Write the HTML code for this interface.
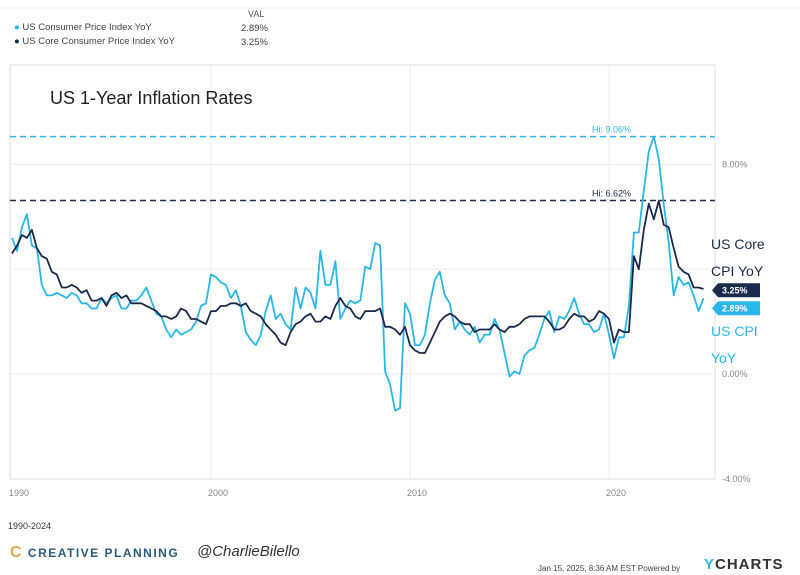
<!DOCTYPE html>
<html><head><meta charset="utf-8"><style>
body{margin:0;width:800px;height:575px;background:#fff;font-family:"Liberation Sans",sans-serif;position:relative;overflow:hidden}
.t{position:absolute;white-space:nowrap}
</style></head><body>
<div class="t" style="left:248px;top:9px;font-size:9px;color:#555">VAL</div>
<div class="t" style="left:14px;top:22px;font-size:9.5px;color:#444"><span style="color:#29b6e8">●</span> US Consumer Price Index YoY</div>
<div class="t" style="left:14px;top:36px;font-size:9.5px;color:#444"><span style="color:#1b2a4a">●</span> US Core Consumer Price Index YoY</div>
<div class="t" style="left:241px;top:23px;font-size:9.5px;color:#444">2.89%</div>
<div class="t" style="left:241px;top:37px;font-size:9.5px;color:#444">3.25%</div>
<svg id="chart" width="800" height="575" style="position:absolute;left:0;top:0"></svg>
<div class="t" style="left:50px;top:88px;font-size:18px;color:#222">US 1-Year Inflation Rates</div>
<div class="t" style="left:711px;top:231px;font-size:14px;color:#1b2a4a;line-height:27px">US Core<br>CPI YoY</div>
<div class="t" style="left:711px;top:318px;font-size:14px;color:#29b6e8;line-height:27px">US CPI<br>YoY</div>
<div class="t" style="left:8px;top:521px;font-size:9px;color:#333">1990-2024</div>
<div class="t" style="left:10px;top:544px;font-size:12px;color:#2a5a7a;letter-spacing:1.5px;font-weight:bold"><span style="color:#d8a84a;font-size:16px">C</span> CREATIVE PLANNING</div>
<div class="t" style="left:197px;top:543px;font-size:15px;color:#333;font-style:italic">@CharlieBilello</div>
<div class="t" style="left:538px;top:564px;font-size:8px;color:#444">Jan 15, 2025, 8:36 AM EST Powered by</div>
<div class="t" style="left:704px;top:556px;font-size:15px;color:#333;font-weight:bold;letter-spacing:1px"><span style="color:#29b6e8">Y</span>CHARTS</div>
<script>
const years=["1990","2000","2010","2020"];
const yTicks=[8,0,-4];
const cpi=[5.2,4.7,5.6,6.1,4.9,4.8,3.4,3.0,3.0,3.1,3.0,2.9,3.1,3.0,2.7,2.7,2.5,2.5,2.9,2.7,2.9,3.0,2.5,2.5,2.8,2.8,3.0,3.3,2.8,2.3,2.2,1.7,1.4,1.7,1.5,1.6,1.7,2.0,2.6,2.7,3.8,3.7,3.5,3.4,2.9,3.2,2.6,1.6,1.3,1.1,1.5,2.4,3.0,2.1,2.3,1.9,1.7,3.3,2.5,3.3,3.1,2.5,4.7,3.4,3.4,4.3,2.1,2.5,2.8,2.7,2.8,4.1,4.0,5.0,4.9,0.1,-0.4,-1.4,-1.3,2.7,2.3,1.1,1.1,1.5,2.7,3.6,3.9,3.0,2.7,1.7,2.0,1.7,1.5,1.8,1.2,1.5,1.5,2.1,1.7,0.8,-0.1,0.1,0.0,0.7,0.9,1.0,1.5,2.1,2.4,1.6,2.2,2.1,2.4,2.9,2.3,1.9,1.9,1.6,1.7,2.3,1.5,0.6,1.4,1.4,2.6,5.4,5.4,7.0,8.5,9.06,8.2,6.5,5.0,3.0,3.7,3.4,3.5,3.0,2.4,2.89];
const core=[4.6,4.9,5.3,5.2,5.5,4.8,4.5,4.4,3.9,3.8,3.3,3.3,3.4,3.3,3.1,3.2,2.8,2.8,2.9,2.6,3.0,3.1,2.9,3.0,2.7,2.7,2.7,2.6,2.5,2.4,2.2,2.2,2.1,2.2,2.5,2.4,2.1,2.1,2.0,1.9,2.4,2.4,2.6,2.6,2.7,2.7,2.6,2.7,2.4,2.3,2.2,1.9,1.7,1.5,1.2,1.1,1.6,1.9,2.0,2.2,2.3,2.0,2.0,2.2,2.1,2.6,2.9,2.6,2.5,2.2,2.1,2.4,2.4,2.4,2.5,1.8,1.8,1.7,1.5,1.8,1.1,0.9,0.8,0.8,1.2,1.6,2.0,2.2,2.3,2.2,2.0,1.9,1.9,1.6,1.7,1.7,1.7,1.9,1.7,1.6,1.8,1.8,1.9,2.1,2.2,2.2,2.2,2.2,2.0,1.7,1.7,1.8,2.1,2.3,2.2,2.2,2.0,2.1,2.4,2.3,2.1,1.2,1.7,1.6,1.6,4.5,4.0,5.5,6.5,5.9,6.62,5.7,5.6,4.8,4.1,3.9,3.8,3.3,3.3,3.25];
const startYear=1990, perYear=4;
const svg=document.getElementById('chart');
const NS='http://www.w3.org/2000/svg';
const L=10,R=715,T=65,B=479;
const xS=t=>L+2+(t-1990)*19.9;
const yS=v=>374-v*26.2;
function mk(tag,a){const e=document.createElementNS(NS,tag);for(const k in a)e.setAttribute(k,a[k]);svg.appendChild(e);return e;}
let e=mk('rect',{x:L,y:T,width:R-L,height:B-T,fill:'none',stroke:'#ddd'});


mk('line',{x1:0,y1:8,x2:800,y2:8,stroke:'#eee'});
[12,4,8,0].forEach(v=>{if(yS(v)>T&&yS(v)<B){const g=mk('line',{x1:L,x2:R,y1:yS(v),y2:yS(v),stroke:'#eee'});

}});
years.forEach(y=>{const x=xS(+y);
if(+y>1990){const g=mk('line',{x1:x,x2:x,y1:T,y2:B,stroke:'#eee'});

}
const t=mk('text',{x:x-3,y:496,'font-size':9,fill:'#888'});t.textContent=y;

});
yTicks.forEach(v=>{const t=mk('text',{x:722,y:yS(v)+3,'font-size':9,fill:'#888'});t.textContent=v.toFixed(2)+'%';

});
const hiC=Math.max(...cpi),hiK=Math.max(...core);
[[hiC,'#29b6e8'],[hiK,'#1b2a4a']].forEach(([v,c])=>{const l=mk('line',{x1:L,x2:R,y1:yS(v),y2:yS(v),stroke:c,'stroke-width':1.5,'stroke-dasharray':'6,4'});


const t=mk('text',{x:592,y:yS(v)-4,'font-size':9,fill:c});t.textContent='Hi: '+v.toFixed(2)+'%';

});
function path(arr,c,name){const d=arr.map((v,i)=>(i?'L':'M')+xS(startYear+i/perYear).toFixed(1)+','+yS(v).toFixed(1)).join('');
const p=mk('path',{d:d,fill:'none',stroke:c,'stroke-width':1.8,'stroke-linejoin':'round'});

}
path(cpi,'#29b6e8','cpi-line');
path(core,'#1b2a4a','core-line');
const cpiTagY=yS(cpi[cpi.length-1])+10;
[[core[core.length-1],'#1b2a4a','core-value-tag',cpiTagY-18],[cpi[cpi.length-1],'#29b6e8','cpi-value-tag',cpiTagY]].forEach(([v,c,n,y])=>{
const p=mk('path',{d:`M712,${y} L718,${y-7} L760,${y-7} L760,${y+7} L718,${y+7}Z`,fill:c});


const t=mk('text',{x:722,y:y+3,'font-size':9,fill:'#fff','font-weight':'bold'});t.textContent=v.toFixed(2)+'%';

});
</script>
</body></html>
